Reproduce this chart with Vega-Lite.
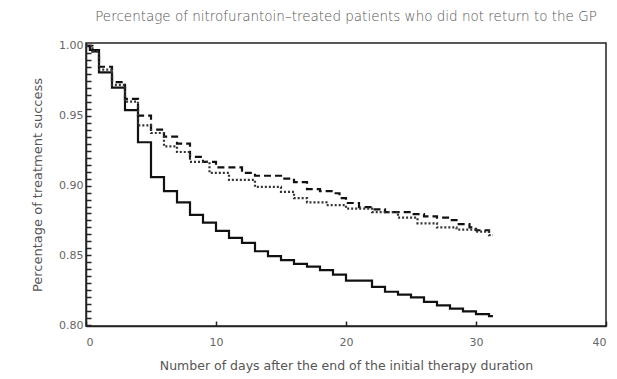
{
  "$schema": "https://vega.github.io/schema/vega-lite/v6.json",
  "width": 520,
  "height": 283,
  "autosize": {"type": "none"},
  "padding": {"left": 86, "top": 43, "right": 11, "bottom": 53},
  "background": "white",
  "title": {
    "text": "Percentage of nitrofurantoin–treated patients who did not return to the GP",
    "font": "DejaVu Sans",
    "fontSize": 13.5,
    "fontWeight": 300,
    "color": "#555",
    "anchor": "middle",
    "offset": 16
  },
  "config": {
    "view": {"stroke": "#222", "strokeWidth": 1.5},
    "axis": {"labelFont": "DejaVu Sans", "titleFont": "DejaVu Sans", "labelColor": "#666", "titleColor": "#555", "domainColor": "#222", "grid": false, "tickColor": "#222", "tickSize": -5, "tickWidth": 1.5, "ticks": true}
  },
  "data": {
    "values": [
      {"g": "A", "day": 0, "s": 1.0},
      {"g": "A", "day": 0.3, "s": 0.997},
      {"g": "A", "day": 1, "s": 0.981},
      {"g": "A", "day": 2, "s": 0.970},
      {"g": "A", "day": 3, "s": 0.954},
      {"g": "A", "day": 4, "s": 0.931},
      {"g": "A", "day": 5, "s": 0.906},
      {"g": "A", "day": 6, "s": 0.896},
      {"g": "A", "day": 7, "s": 0.888},
      {"g": "A", "day": 8, "s": 0.879},
      {"g": "A", "day": 9, "s": 0.8735},
      {"g": "A", "day": 10, "s": 0.8675},
      {"g": "A", "day": 11, "s": 0.8625},
      {"g": "A", "day": 12, "s": 0.859},
      {"g": "A", "day": 13, "s": 0.853},
      {"g": "A", "day": 14, "s": 0.8495},
      {"g": "A", "day": 15, "s": 0.8466},
      {"g": "A", "day": 16, "s": 0.844},
      {"g": "A", "day": 17, "s": 0.842},
      {"g": "A", "day": 18, "s": 0.8395},
      {"g": "A", "day": 19, "s": 0.8363},
      {"g": "A", "day": 20, "s": 0.832},
      {"g": "A", "day": 22, "s": 0.8275},
      {"g": "A", "day": 23, "s": 0.824},
      {"g": "A", "day": 24, "s": 0.822},
      {"g": "A", "day": 25, "s": 0.820},
      {"g": "A", "day": 26, "s": 0.8167},
      {"g": "A", "day": 27, "s": 0.8143},
      {"g": "A", "day": 28, "s": 0.812},
      {"g": "A", "day": 29, "s": 0.810},
      {"g": "A", "day": 30, "s": 0.808},
      {"g": "A", "day": 31, "s": 0.8065},
      {"g": "A", "day": 31.3, "s": 0.8065},
      {"g": "B", "day": 0, "s": 1.0},
      {"g": "B", "day": 0.5, "s": 0.996},
      {"g": "B", "day": 1, "s": 0.985},
      {"g": "B", "day": 2, "s": 0.974},
      {"g": "B", "day": 3, "s": 0.962},
      {"g": "B", "day": 4, "s": 0.950},
      {"g": "B", "day": 5, "s": 0.940},
      {"g": "B", "day": 6, "s": 0.935},
      {"g": "B", "day": 7, "s": 0.930},
      {"g": "B", "day": 8, "s": 0.9205},
      {"g": "B", "day": 9, "s": 0.917},
      {"g": "B", "day": 10, "s": 0.913},
      {"g": "B", "day": 12, "s": 0.909},
      {"g": "B", "day": 13, "s": 0.907},
      {"g": "B", "day": 15, "s": 0.905},
      {"g": "B", "day": 16, "s": 0.9025},
      {"g": "B", "day": 17, "s": 0.8975},
      {"g": "B", "day": 18, "s": 0.896},
      {"g": "B", "day": 19, "s": 0.8945},
      {"g": "B", "day": 19.5, "s": 0.891},
      {"g": "B", "day": 20, "s": 0.8875},
      {"g": "B", "day": 21, "s": 0.8845},
      {"g": "B", "day": 22, "s": 0.883},
      {"g": "B", "day": 23, "s": 0.881},
      {"g": "B", "day": 25, "s": 0.8795},
      {"g": "B", "day": 26, "s": 0.878},
      {"g": "B", "day": 27, "s": 0.877},
      {"g": "B", "day": 28, "s": 0.8753},
      {"g": "B", "day": 28.5, "s": 0.8724},
      {"g": "B", "day": 29.5, "s": 0.870},
      {"g": "B", "day": 30, "s": 0.868},
      {"g": "B", "day": 31, "s": 0.867},
      {"g": "B", "day": 31.3, "s": 0.867},
      {"g": "C", "day": 0, "s": 1.0},
      {"g": "C", "day": 0.5, "s": 0.996},
      {"g": "C", "day": 1, "s": 0.983},
      {"g": "C", "day": 2, "s": 0.972},
      {"g": "C", "day": 3, "s": 0.960},
      {"g": "C", "day": 4, "s": 0.943},
      {"g": "C", "day": 5, "s": 0.9376},
      {"g": "C", "day": 6, "s": 0.928},
      {"g": "C", "day": 7, "s": 0.924},
      {"g": "C", "day": 8, "s": 0.917},
      {"g": "C", "day": 9.5, "s": 0.909},
      {"g": "C", "day": 11, "s": 0.904},
      {"g": "C", "day": 13, "s": 0.899},
      {"g": "C", "day": 15, "s": 0.8955},
      {"g": "C", "day": 16, "s": 0.891},
      {"g": "C", "day": 17, "s": 0.888},
      {"g": "C", "day": 18.5, "s": 0.886},
      {"g": "C", "day": 20, "s": 0.8835},
      {"g": "C", "day": 22, "s": 0.881},
      {"g": "C", "day": 24, "s": 0.877},
      {"g": "C", "day": 25.5, "s": 0.873},
      {"g": "C", "day": 27, "s": 0.870},
      {"g": "C", "day": 28.5, "s": 0.8685},
      {"g": "C", "day": 30, "s": 0.867},
      {"g": "C", "day": 31, "s": 0.8645},
      {"g": "C", "day": 31.3, "s": 0.8645}
    ]
  },
  "mark": {"type": "line", "interpolate": "step-after", "clip": true},
  "encoding": {
    "x": {
      "field": "day",
      "type": "quantitative",
      "scale": {"domain": [0, 40], "nice": false, "zero": false},
      "axis": {
        "title": "Number of days after the end of the initial therapy duration",
        "tickCount": 4,
        "format": "d",
        "labelPadding": 15,
        "labelFontSize": 11,
        "titleFontSize": 12.5,
        "titleFontWeight": "normal",
        "titlePadding": 12,
        "domainWidth": 1.5
      }
    },
    "y": {
      "field": "s",
      "type": "quantitative",
      "scale": {"domain": [0.7995, 1.002], "nice": false, "zero": false},
      "axis": {
        "title": "Percentage of treatment success",
        "tickCount": 40,
        "labelExpr": "round(datum.value * 1000) % 50 == 0 ? format(datum.value, '.2f') : ''",
        "labelPadding": 8,
        "labelFontSize": 11,
        "titleFontSize": 13,
        "titleFontWeight": "normal",
        "titlePadding": 14,
        "domainWidth": 1.5
      }
    },
    "detail": {"field": "g"},
    "strokeDash": {
      "field": "g",
      "type": "nominal",
      "scale": {"domain": ["A", "B", "C"], "range": [[1, 0], [7, 4], [2, 2]]},
      "legend": null
    },
    "strokeWidth": {
      "field": "g",
      "type": "nominal",
      "scale": {"domain": ["A", "B", "C"], "range": [2.2, 2.2, 1.3]},
      "legend": null
    },
    "color": {
      "field": "g",
      "type": "nominal",
      "scale": {"domain": ["A", "B", "C"], "range": ["#111", "#111", "#333"]},
      "legend": null
    }
  }
}
